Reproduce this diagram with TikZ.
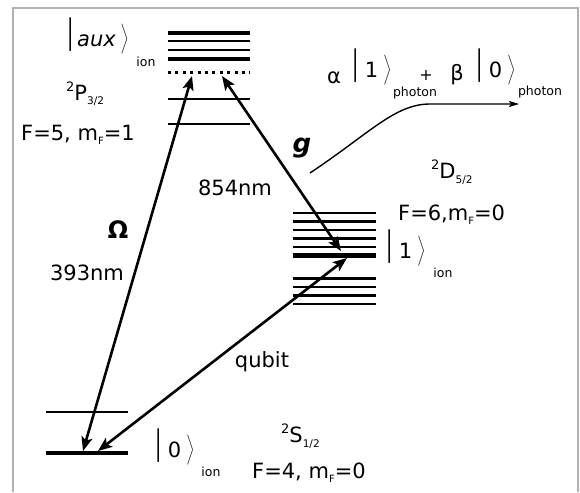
\documentclass[tikz,border=0pt]{standalone}
\usepackage{fontspec}
\setmainfont{DejaVu Sans}
\usepackage{graphicx}
\usetikzlibrary{arrows.meta}
\newcommand{\kbar}{\raisebox{2.5pt}{\scalebox{0.9}[1.6]{|}}}
\newcommand{\kang}{\raisebox{2pt}{$\left.\vrule height 24pt depth 14pt width 0pt\right\rangle$}}
\newcommand{\termsym}[3]{\raisebox{9pt}{\fontsize{13}{13}\selectfont #1}#2\raisebox{-5pt}{\fontsize{10.5}{11}\selectfont #3}}
\newcommand{\mFsub}{m\raisebox{-4pt}{\fontsize{10}{10}\selectfont F}}
\begin{document}
\begin{tikzpicture}[x=1pt,y=-1pt,
  every node/.style={inner sep=0pt, font=\fontsize{21}{25}\selectfont},
  lev/.style={line width=2.8pt},
  levthick/.style={line width=4.2pt},
  trans/.style={line width=2.6pt, {Stealth[length=14pt,width=11pt,inset=3pt]}-{Stealth[length=14pt,width=11pt,inset=3pt]}},
  photonarrow/.style={line width=1.4pt, -{Stealth[length=10pt,width=6pt,inset=2pt]}},
  subtxt/.style={font=\fontsize{12.5}{14}\selectfont},
  frame/.style={draw=black!30, line width=1.8pt}]
\fill[white] (0,0) rectangle (580,492);
\useasboundingbox (0,0) rectangle (580,492);
\draw[frame] (13,492) -- (13,8) -- (578,8) -- (578,492);
% P3/2 levels
\draw[levthick] (168,33) -- (250,33);
\draw[lev] (168,41) -- (250,41);
\draw[lev] (168,50) -- (250,50);
\draw[levthick] (168,59) -- (250,59);
\draw[line width=3pt, dash pattern=on 3pt off 4.4pt] (168,73) -- (250,73);
\draw[lev] (168,99) -- (250,99);
\draw[lev] (168,124) -- (250,124);
% D5/2 levels
\foreach \yy in {213,221.5,230,238.5,247,278.5,287,295.5,304}
  \draw[lev] (293,\yy) -- (376,\yy);
\draw[levthick] (293,255.5) -- (376,255.5);
% S1/2 levels
\draw[lev] (46,412) -- (128,412);
\draw[levthick] (46,453) -- (128,453);
% arrow end points
\coordinate (Pa) at (192,76);
\coordinate (Sa) at (83,451);
\coordinate (Pb) at (222,76);
\coordinate (Da) at (341,251);
\coordinate (Db) at (347,258);
\coordinate (Sb) at (98,451);
\coordinate (gs) at (310,173);
\coordinate (ge) at (519,104);
\draw[trans] (Sa) -- (Pa);
\draw[trans] (Pb) -- (Da);
\draw[trans] (Sb) -- (Db);
\draw[photonarrow] (gs) .. controls (370,133) and (395,104) .. (430,104) -- (ge);
% labels
\node (auxket) at (98,38) {\kbar\,\textit{aux}\,\kang};
\node[subtxt] (auxion) at (146,62) {ion};
\node[anchor=base west] (Pterm) at (66,100) {\termsym{2}{P}{3/2}};
\node[anchor=base west] (Pf) at (21,140) {F=5, \mFsub=1};
\node (om) at (118,230) {\fontsize{24}{28}\selectfont\bfseries Ω};
\node (l393) at (87,273) {393nm};
\node (l854) at (235,188) {854nm};
\node (gl) at (302,148) {\fontsize{26}{30}\selectfont\bfseries\itshape g};
\node (qb) at (262,362) {qubit};
\node (alpha) at (334,78) {α};
\node (k1) at (372,69) {\kbar\hspace{6pt}1\hspace{4pt}\kang};
\node[subtxt] (ph1) at (415,93) {photon};
\node (plus) at (426,75) {\fontsize{16}{18}\selectfont +};
\node (beta) at (457,75) {β};
\node (k0) at (496,69) {\kbar\hspace{6pt}0\hspace{4pt}\kang};
\node[subtxt] (ph2) at (540,92) {photon};
\node[anchor=base west] (Dterm) at (431,178) {\termsym{2}{D}{5/2}};
\node[anchor=base west] (Df) at (398,220) {F=6,\mFsub=0};
\node (k1ion) at (406,250) {\kbar\hspace{6pt}1\hspace{4pt}\kang};
\node[subtxt] (ion1) at (443,273) {ion};
\node (k0ion) at (175,449) {\kbar\hspace{6pt}0\hspace{4pt}\kang};
\node[subtxt] (ion0) at (211,472) {ion};
\node[anchor=base west] (Sterm) at (281,442) {\termsym{2}{S}{1/2}};
\node[anchor=base west] (Sf) at (252,478) {F=4, \mFsub=0};
\end{tikzpicture}
\end{document}
